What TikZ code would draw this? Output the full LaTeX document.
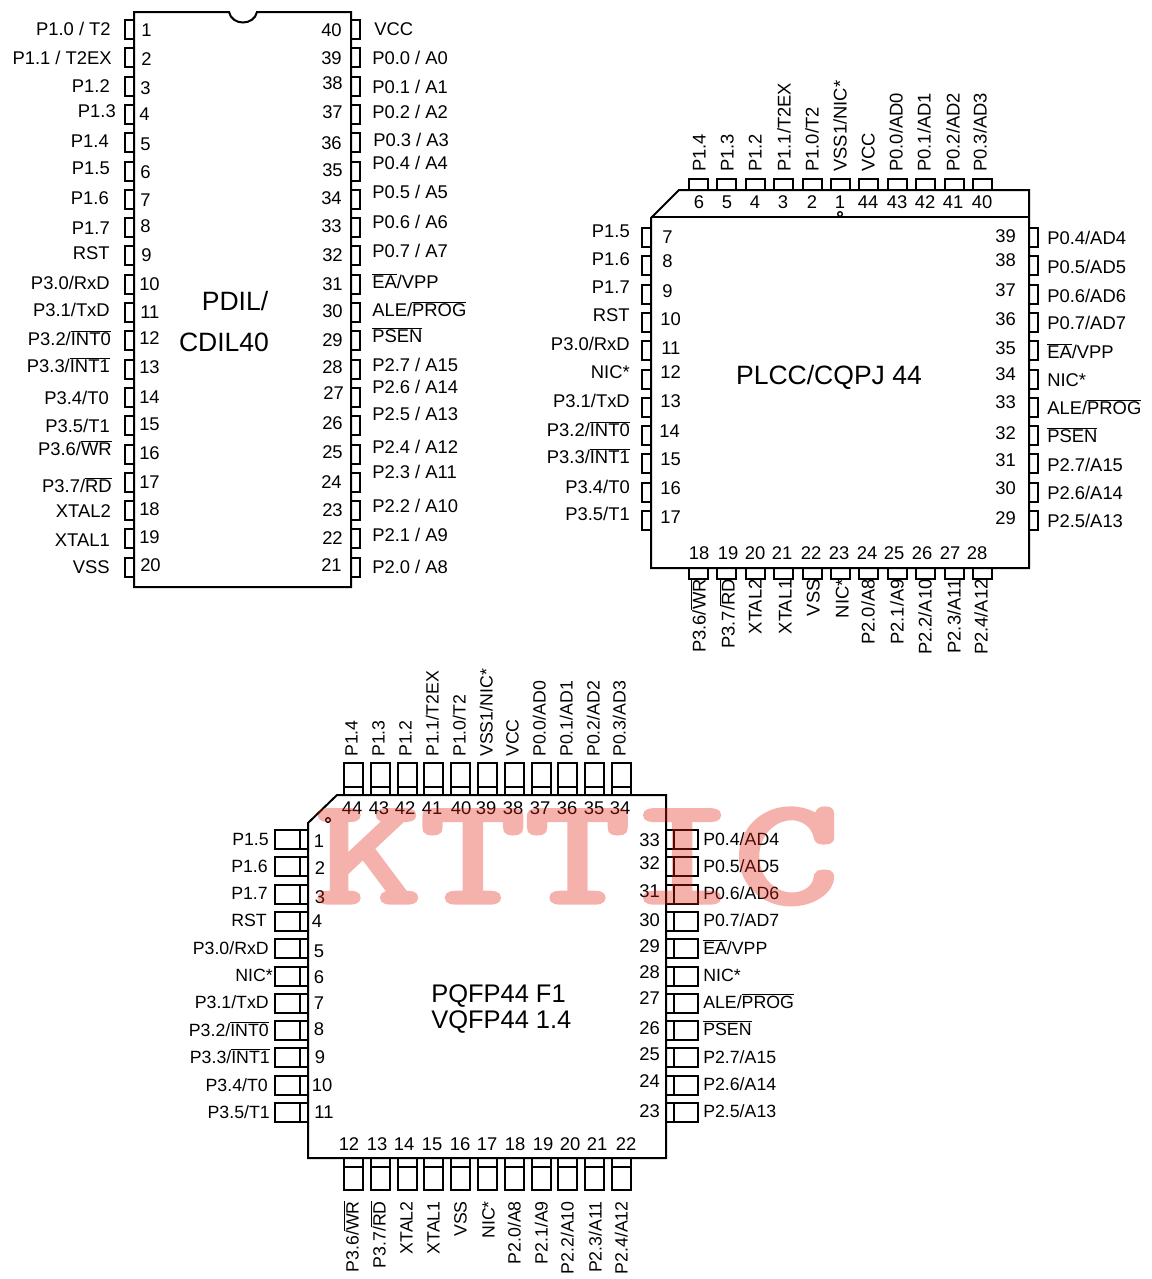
\documentclass[tikz,border=0pt]{standalone}
\usepackage{fontspec}
\setmainfont{Liberation Sans}
\newfontfamily\wmfont[FakeBold=3.5]{Latin Modern Mono}
\usepackage{tikz}
\definecolor{wmred}{RGB}{226,34,20}
\newcommand{\ovl}[1]{$\overline{\hbox{#1}}$}
\tikzset{
  chip/.style={draw=black, line width=1.5pt},
  pinbox/.style={draw=black, line width=1.5pt},
  lab/.style={inner sep=0pt, font=\fontsize{13.8}{15}\selectfont, text height=9.9pt, text depth=0pt},
  labl/.style={lab, anchor=east},
  labr/.style={lab, anchor=west},
  labc/.style={lab, anchor=center},
  labu/.style={lab, anchor=west, rotate=90},
  labd/.style={lab, anchor=east, rotate=90},
  small/.style={font=\fontsize{13.3}{15}\selectfont},
  title/.style={inner sep=0pt, font=\fontsize{19.9}{22}\selectfont, text height=13.8pt, text depth=0pt}
}
\begin{document}
\begin{tikzpicture}[x=0.75pt,y=-0.75pt]
  \useasboundingbox (0,0) rectangle (1152,1279);

  % PDIL 40
  \draw[chip] (134,12) -- (229,12) .. controls (232,26) and (254,26) .. (257,12) -- (351,12) -- (351,587) -- (134,587) -- cycle;
  \foreach \i in {0,...,19} {
    \draw[pinbox] (125,{20+28.3*\i}) rectangle ++(9,19);
    \draw[pinbox] (351,{20+28.3*\i}) rectangle ++(9,19);
  }
  \foreach \n/\x/\y/\t in {a/111/29/{P1.0 / T2},b/112/58/{P1.1 / T2EX},c/110/86/{P1.2},d/116/111/{P1.3},e/109/141/{P1.4},f/110/168/{P1.5},g/109/198/{P1.6},h/110/228/{P1.7},i/110/253/{RST},j/110/283/{P3.0/RxD},k/110/310/{P3.1/TxD},l/111/339/{P3.2/\ovl{INT0}},m/110/366/{P3.3/\ovl{INT1}},n/109/398/{P3.4/T0},o/110/426/{P3.5/T1},p/112/449/{P3.6/\ovl{WR}},q/112/486/{P3.7/\ovl{RD}},r/111/511/{XTAL2},s/110/540/{XTAL1},t/110/567/{VSS}}
    \node[labl] (dipl\n) at (\x,\y) {\t};
  \foreach \n/\x/\y/\t in {a/374/29/{VCC},b/372/58/{P0.0 / A0},c/372/87/{P0.1 / A1},d/372/112/{P0.2 / A2},e/373/140/{P0.3 / A3},f/372/163/{P0.4 / A4},g/372/192/{P0.5 / A5},h/372/222/{P0.6 / A6},i/372/251/{P0.7 / A7},j/372/282/{\ovl{EA}/VPP},k/372/310/{ALE/\ovl{PROG}},l/372/336/{\ovl{PSEN}},m/372/365/{P2.7 / A15},n/372/387/{P2.6 / A14},o/372/414/{P2.5 / A13},p/372/447/{P2.4 / A12},q/372/472/{P2.3 / A11},r/372/506/{P2.2 / A10},s/372/535/{P2.1 / A9},t/372/567/{P2.0 / A8}}
    \node[labr] (dipr\n) at (\x,\y) {\t};
  \foreach \n/\x/\y in {1/141/30,2/141/59,3/140/88,4/139/114,5/140/144,6/140/172,7/140/200,8/140/226,9/141/255,10/139/284,11/140/312,12/139/338,13/139/367,14/139/397,15/139/424,16/139/453,17/139/482,18/139/509,19/139/537,20/140/565}
    \node[labr] (dipn\n) at (\x,\y) {\n};
  \foreach \n/\x/\y in {40/342/30,39/342/58,38/343/83,37/343/112,36/342/143,35/343/170,34/342/198,33/342/226,32/343/255,31/343/284,30/343/311,29/343/340,28/343/367,27/344/393,26/343/423,25/343/452,24/342/482,23/343/510,22/343/538,21/342/565}
    \node[labl] (dipn\n) at (\x,\y) {\n};
  \node[title] (diptop) at (235,301) {PDIL/};
  \node[title] (dipbot) at (224,342) {CDIL40};

  % PLCC 44
  \draw[chip] (679,190) -- (1029,190) -- (1029,568) -- (651,568) -- (651,218) -- cycle;
  \draw[chip] (651,217) -- (1029,217);
  \node[circle, draw=black, line width=1pt, inner sep=0pt, minimum size=3.5pt] (plccdot) at (840,214) {};
  \foreach \i in {0,...,10} {
    \draw[pinbox] ({689+28.4*\i},179) rectangle ++(19,11);
    \draw[pinbox] ({689+28.4*\i},568) rectangle ++(19,11);
    \draw[pinbox] (642,{228+28.3*\i}) rectangle ++(9,19);
    \draw[pinbox] (1029,{228+28.3*\i}) rectangle ++(9,19);
  }
  \foreach \n/\x/\t in {a/699/{P1.4},b/727/{P1.3},c/755/{P1.2},d/784/{P1.1/T2EX},e/812/{P1.0/T2},f/840/{VSS1/NIC*},g/868/{VCC},h/896/{P0.0/AD0},i/924/{P0.1/AD1},j/953/{P0.2/AD2},k/980/{P0.3/AD3}}
    \node[labu] (plcct\n) at (\x,172) {\t};
  \foreach \n/\x/\t in {a/699/{P3.6/\ovl{WR}},b/728/{P3.7/\ovl{RD}},c/755/{XTAL2},d/785/{XTAL1},e/813/{VSS},f/842/{NIC*},g/868/{P2.0/A8},h/897/{P2.1/A9},i/925/{P2.2/A10},j/954/{P2.3/A11},k/981/{P2.4/A12}}
    \node[labd] (plccb\n) at (\x,579) {\t};
  \foreach \n/\y/\t in {a/231/{P1.5},b/259/{P1.6},c/287/{P1.7},d/315/{RST},e/344/{P3.0/RxD},f/372/{NIC*},g/401/{P3.1/TxD},h/430/{P3.2/\ovl{INT0}},i/457/{P3.3/\ovl{INT1}},j/487/{P3.4/T0},k/514/{P3.5/T1}}
    \node[labl] (plccl\n) at (630,\y) {\t};
  \foreach \n/\y/\t in {a/238/{P0.4/AD4},b/267/{P0.5/AD5},c/296/{P0.6/AD6},d/323/{P0.7/AD7},e/352/{\ovl{EA}/VPP},f/380/{NIC*},g/408/{ALE/\ovl{PROG}},h/436/{\ovl{PSEN}},i/465/{P2.7/A15},j/493/{P2.6/A14},k/521/{P2.5/A13}}
    \node[labr] (plccr\n) at (1047,\y) {\t};
  \foreach \n/\x in {6/699,5/727,4/755,3/783,2/812,1/840,44/868,43/897,42/925,41/953,40/982}
    \node[labc] (plccn\n) at (\x,202) {\n};
  \foreach \n/\x in {18/699,19/728,20/755,21/782,22/811,23/839,24/867,25/894,26/922,27/950,28/977}
    \node[labc] (plccn\n) at (\x,553) {\n};
  \foreach \n/\x/\y in {7/662/237,8/662/261,9/662/291,10/660/319,11/661/348,12/660/372,13/660/401,14/659/431,15/660/459,16/660/488,17/660/517}
    \node[labr] (plccn\n) at (\x,\y) {\n};
  \foreach \n/\y in {39/236,38/260,37/290,36/319,35/348,34/374,33/402,32/433,31/460,30/488,29/518}
    \node[labl] (plccn\n) at (1016,\y) {\n};
  \node[title] (plccname) at (829,375) {PLCC/CQPJ 44};

  % PQFP 44
  \draw[chip] (337,795) -- (666,795) -- (666,1158) -- (308,1158) -- (308,823) -- cycle;
  \node[circle, draw=black, line width=1pt, inner sep=0pt, minimum size=3.5pt] (qfpdot) at (328,820) {};
  \foreach \i in {0,...,10} {
    \draw[pinbox] ({344+26.8*\i},763) rectangle ++(19,32);
    \draw[pinbox] ({344+26.8*\i},787) -- ++(19,0);
    \draw[pinbox] ({344+26.8*\i},1158) rectangle ++(19,32);
    \draw[pinbox] ({344+26.8*\i},1167) -- ++(19,0);
    \draw[pinbox] (275,{830+27.3*\i}) rectangle ++(33,19);
    \draw[pinbox] (300,{830+27.3*\i}) -- ++(0,19);
    \draw[pinbox] (666,{830+27.3*\i}) rectangle ++(32,19);
    \draw[pinbox] (674,{830+27.3*\i}) -- ++(0,19);
  }
  \foreach \n/\x/\t in {a/351/{P1.4},b/378/{P1.3},c/405/{P1.2},d/432/{P1.1/T2EX},e/459/{P1.0/T2},f/486/{VSS1/NIC*},g/512/{VCC},h/539/{P0.0/AD0},i/566/{P0.1/AD1},j/593/{P0.2/AD2},k/619/{P0.3/AD3}}
    \node[labu,small] (qfpt\n) at (\x,757) {\t};
  \foreach \n/\x/\t in {a/352/{P3.6/\ovl{WR}},b/379/{P3.7/\ovl{RD}},c/406/{XTAL2},d/433/{XTAL1},e/460/{VSS},f/488/{NIC*},g/514/{P2.0/A8},h/541/{P2.1/A9},i/567/{P2.2/A10},j/595/{P2.3/A11},k/621/{P2.4/A12}}
    \node[labd,small] (qfpb\n) at (\x,1201) {\t};
  \foreach \n/\x/\y/\t in {a/269/839/{P1.5},b/268/866/{P1.6},c/268/893/{P1.7},d/267/920/{RST},e/269/948/{P3.0/RxD},f/273/975/{NIC*},g/269/1002/{P3.1/TxD},h/269/1030/{P3.2/\ovl{INT0}},i/270/1057/{P3.3/\ovl{INT1}},j/268/1085/{P3.4/T0},k/270/1112/{P3.5/T1}}
    \node[labl,small] (qfpl\n) at (\x,\y) {\t};
  \foreach \n/\y/\t in {a/839/{P0.4/AD4},b/866/{P0.5/AD5},c/893/{P0.6/AD6},d/920/{P0.7/AD7},e/948/{\ovl{EA}/VPP},f/975/{NIC*},g/1002/{ALE/\ovl{PROG}},h/1029/{\ovl{PSEN}},i/1057/{P2.7/A15},j/1084/{P2.6/A14},k/1111/{P2.5/A13}}
    \node[labr,small] (qfpr\n) at (703,\y) {\t};
  \foreach \n/\x in {44/352,43/379,42/405,41/432,40/461,39/486,38/513,37/540,36/567,35/594,34/620}
    \node[labc] (qfpn\n) at (\x,808) {\n};
  \foreach \n/\x in {12/349,13/377,14/404,15/432,16/460,17/487,18/515,19/543,20/570,21/597,22/626}
    \node[labc] (qfpn\n) at (\x,1144) {\n};
  \foreach \n/\x/\y in {1/319/841,2/320/868,3/320/897,4/317/921,5/319/951,6/319/977,7/319/1003,8/319/1029,9/320/1057,10/322/1085,11/324/1112}
    \node[labc] (qfpn\n) at (\x,\y) {\n};
  \foreach \n/\y in {33/840,32/863,31/891,30/920,29/946,28/972,27/998,26/1028,25/1054,24/1081,23/1111}
    \node[labl] (qfpn\n) at (660,\y) {\n};
  \node[title, anchor=west, font=\fontsize{19.1}{22}\selectfont] (qfpup) at (431,993) {PQFP44 F1};
  \node[title, anchor=west, font=\fontsize{19.1}{22}\selectfont] (qfplo) at (431,1019) {VQFP44 1.4};

  % watermark on top
  \begin{scope}[transparency group, opacity=0.35]
    \node[inner sep=0pt, text=wmred, anchor=base, xscale=1.36, font=\fontsize{112}{130}\wmfont\selectfont] (kttic) at (577.5,902) {KTTIC};
  \end{scope}
\end{tikzpicture}
\end{document}
